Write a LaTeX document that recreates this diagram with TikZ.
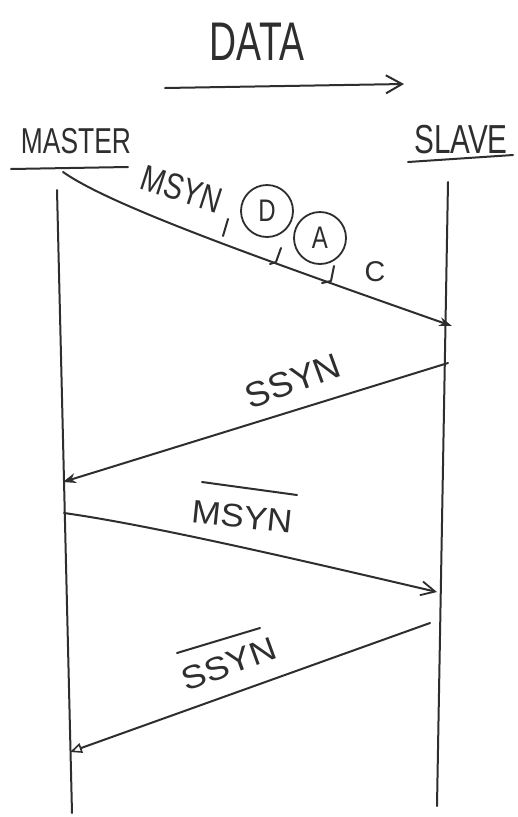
\documentclass[tikz,border=0pt]{standalone}
\usepackage{fontspec}
\setmainfont{Liberation Sans}
\usetikzlibrary{arrows.meta}
\definecolor{ink}{HTML}{2E2E2E}
\newcommand\hw[4]{{\fontsize{#1}{#1}\selectfont\scalebox{#2}[#3]{#4}}}
\begin{document}
\begin{tikzpicture}[x=1pt,y=-1pt,
  pen/.style={draw=ink, line width=2pt, line cap=round, line join=round},
  lbl/.style={text=ink, inner sep=0pt},
  circ/.style={circle, draw=ink, line width=1.8pt, minimum size=52pt, inner sep=0pt, text=ink}]
\useasboundingbox[fill=white] (0,0) rectangle (518,817);

% title
\node[lbl] (data) at (257,42) {\hw{34}{1.1}{1.6}{DATA}};
\coordinate (d1) at (165,88);
\coordinate (d2) at (404,84);
\draw[pen, -{Straight Barb[length=16pt,width=18pt,line width=2pt]}] (d1) -- (d2);

% participants
\node[lbl] (master) at (76,141) {\hw{24}{1.1}{1.5}{MASTER}};
\node[lbl] (slave) at (461,140) {\hw{27}{1.1}{1.5}{SLAVE}};
\draw[pen] (11,169) -- (128,167);
\draw[pen] (408,162) -- (513,155);

% lifelines
\coordinate (mtop) at (57,190);
\coordinate (mbot) at (72,813);
\coordinate (stop) at (448,182);
\coordinate (sbot) at (437,806);
\draw[pen] (mtop) -- (mbot);
\draw[pen] (stop) -- (sbot);

% message 1
\coordinate (a1s) at (63,172);
\coordinate (a1e) at (452,326);
\draw[pen, -{Stealth[length=13pt,width=9pt]}] (a1s) .. controls (110,205) and (250,255) .. (a1e);
\node[lbl, rotate=-18] (msyn1) at (182,189) {\hw{26}{1.1}{1.4}{MSYN}};
\node[circ] (cd) at (267,211) {\hw{24}{1}{1.3}{D}};
\node[circ] (ca) at (320,238) {\hw{24}{1}{1.3}{A}};
\node[lbl] (cc) at (375,272) {\hw{26}{1.1}{1.1}{C}};
\draw[pen] (228,219) -- (223,236);
\draw[pen] (281,248) -- (276,262) -- (270,264);
\draw[pen] (334,266) -- (331,281) -- (322,283);

% message 2
\coordinate (a2s) at (448,363);
\coordinate (a2e) at (63,482);
\draw[pen, -{Stealth[length=13pt,width=10pt]}] (a2s) -- (a2e);
\node[lbl, rotate=20] (ssyn1) at (293,381) {\hw{28}{1.3}{1.25}{SSYN}};

% message 3
\coordinate (a3s) at (64,513);
\coordinate (a3e) at (437,592);
\draw[pen, -{Straight Barb[length=14pt,width=14pt,line width=1.8pt]}] (a3s) .. controls (150,525) and (300,560) .. (a3e);
\node[lbl, rotate=-6] (msyn2) at (242,517) {\hw{25}{1.4}{1.3}{MSYN}};
\draw[pen] (202,482) -- (297,495);

% message 4
\coordinate (a4s) at (430,623);
\coordinate (a4e) at (70,752);
\draw[pen, -{Triangle[open,length=12pt,width=10pt,line width=1.6pt]}] (a4s) -- (a4e);
\node[lbl, rotate=20] (ssyn2) at (229,664) {\hw{25}{1.45}{1.3}{SSYN}};
\draw[pen] (177,653) -- (260,628);
\end{tikzpicture}
\end{document}
